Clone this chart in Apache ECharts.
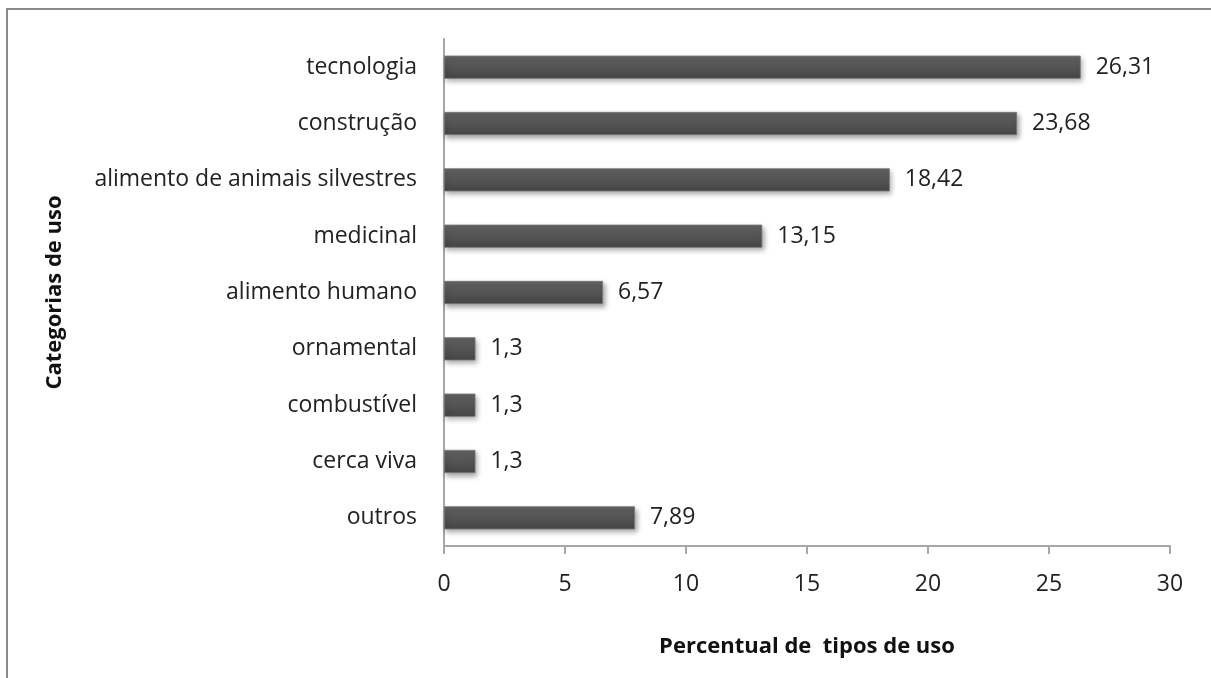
<!DOCTYPE html>
<html>
<head>
<meta charset="utf-8">
<script src="https://cdn.jsdelivr.net/npm/echarts@6/dist/echarts.min.js"></script>
<style>
html,body{margin:0;padding:0;background:#fff;}
#chart{width:1211px;height:678px;}
</style>
</head>
<body>
<div id="chart"></div>
<script>
var categories = ['tecnologia', 'construção', 'alimento de animais silvestres', 'medicinal', 'alimento humano', 'ornamental', 'combustível', 'cerca viva', 'outros'];
var values = [26.31, 23.68, 18.42, 13.15, 6.57, 1.3, 1.3, 1.3, 7.89];
var xTicks = [0, 5, 10, 15, 20, 25, 30];
var xTitle = 'Percentual de  tipos de uso';
var yTitle = 'Categorias de uso';

var FONT = '"Open Sans", sans-serif';
var chart = echarts.init(document.getElementById('chart'), null, {renderer: 'canvas'});
chart.setOption({
  animation: false,
  backgroundColor: '#ffffff',
  graphic: [{
    type: 'rect',
    shape: {x: 7, y: 9, width: 1400, height: 900},
    style: {fill: 'none', stroke: '#8a8a8a', lineWidth: 2},
    silent: true
  }],
  grid: {left: 444, top: 39, right: 41, bottom: 132, containLabel: false},
  xAxis: {
    type: 'value',
    min: xTicks[0],
    max: xTicks[xTicks.length - 1],
    interval: 5,
    name: xTitle,
    nameLocation: 'middle',
    nameGap: 90,
    nameTextStyle: {fontFamily: FONT, fontSize: 22, fontWeight: 'bold', color: '#111'},
    axisLine: {show: true, lineStyle: {color: '#a6a6a6', width: 2}},
    axisTick: {show: true, length: 8, lineStyle: {color: '#a6a6a6', width: 2}},
    axisLabel: {fontFamily: FONT, fontSize: 23, color: '#222', margin: 27},
    splitLine: {show: false}
  },
  yAxis: {
    type: 'category',
    data: categories,
    inverse: true,
    name: yTitle,
    nameLocation: 'middle',
    nameRotate: 90,
    nameGap: 378,
    nameTextStyle: {fontFamily: FONT, fontSize: 22, fontWeight: 'bold', color: '#111'},
    axisLine: {show: true, lineStyle: {color: '#a6a6a6', width: 2}},
    axisTick: {show: false},
    axisLabel: {fontFamily: FONT, fontSize: 23, color: '#222', margin: 27}
  },
  series: [{
    type: 'bar',
    data: values,
    barWidth: '41%',
    itemStyle: {
      color: new echarts.graphic.LinearGradient(0, 0, 0, 1, [
        {offset: 0, color: '#636363'},
        {offset: 1, color: '#454545'}
      ]),
      borderColor: '#777',
      borderWidth: 0.8,
      shadowColor: 'rgba(0,0,0,0.35)',
      shadowBlur: 5,
      shadowOffsetX: 2,
      shadowOffsetY: 3
    },
    label: {
      show: true,
      position: 'right',
      distance: 15,
      fontFamily: FONT,
      fontSize: 23,
      color: '#222',
      formatter: function (p) { return String(p.value).replace('.', ','); }
    }
  }]
});
</script>
</body>
</html>
